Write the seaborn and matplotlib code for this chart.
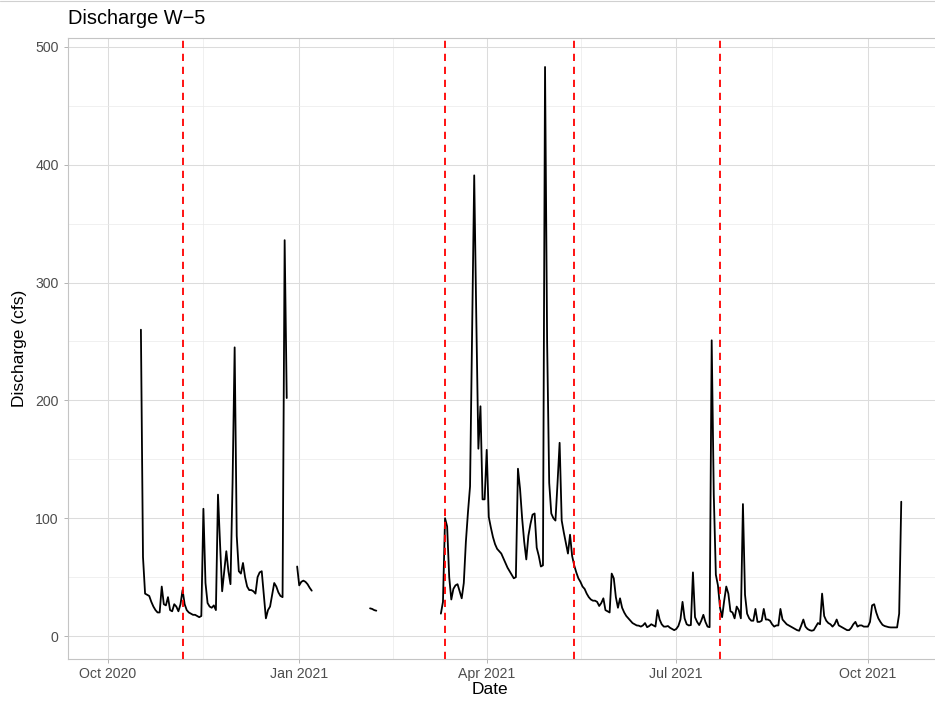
import numpy as np
import pandas as pd
import matplotlib
matplotlib.use("Agg")
import matplotlib.pyplot as plt
import matplotlib.dates as mdates
from matplotlib.lines import Line2D
import seaborn as sns

# ---- data (daily discharge, cfs) ----
seg_starts = ["2020-10-17", "2020-12-31", "2021-02-04", "2021-03-10"]

seg1 = [260, 67, 36, 35, 34, 29, 25, 22, 20, 20,
        42, 27, 26, 33, 22, 21, 27, 25, 21, 27,
        39, 27, 22, 20, 19, 18, 18, 17, 16, 17,
        108, 45, 28, 25, 24, 26, 22, 120, 78, 38,
        55, 72, 55, 44, 130, 245, 85, 55, 53, 62,
        50, 42, 39, 39, 38, 36, 50, 54, 55, 35,
        15, 22, 25, 35, 45, 42, 37, 34, 33, 336,
        202]

seg2 = [59, 43, 46, 47, 46, 44, 41, 38.5]

seg3 = [23.5, 23, 22, 21.5]

seg4 = [19, 29, 100, 93, 50, 31, 40, 43, 44, 38,
        32, 45, 80, 105, 127, 260, 391, 270, 159, 195,
        116, 116, 158, 101, 92, 84, 78, 74, 72, 70,
        66, 62, 58, 55, 52, 49, 50, 142, 125, 100,
        80, 65, 85, 95, 103, 104, 75, 68, 59, 60,
        483, 250, 130, 104, 100, 98, 130, 164, 98, 88,
        79, 70, 86, 68, 60, 54, 49, 46, 42, 40,
        36, 33, 31, 30, 30, 29, 25.5, 28, 32, 22,
        21, 20, 53, 49, 33, 24, 32, 24, 20, 17,
        15, 13, 11, 10, 9, 8.8, 8, 9, 11, 7.5,
        8.5, 10, 9, 8, 22, 14, 10, 8, 8, 8.5,
        7, 6, 5, 6, 8.5, 14, 29, 15, 10, 9,
        9.3, 54, 16, 12, 9.3, 13, 18, 12, 8, 7.5,
        251, 120, 52, 43, 24, 16, 30, 42, 36, 21,
        20, 15, 25, 22, 15, 112, 35, 19, 15, 13,
        13, 23, 12, 12, 13, 23, 14, 14, 13, 10,
        8, 9, 9, 23, 14, 12, 10, 9, 8, 7,
        6, 5, 4.5, 9, 14, 8, 6, 5, 4.5, 5,
        8, 11, 10, 36, 17, 13, 11, 10, 8, 10,
        14, 9, 8, 7, 6, 5, 5, 7, 10, 12,
        8, 9, 9, 8, 8, 8, 12, 26, 27, 20,
        15, 12, 9.5, 8.5, 8, 7.5, 7.3, 7.3, 7.3, 7.3,
        19, 114]

event_dates = ["2020-11-06", "2021-03-12", "2021-05-13", "2021-07-22"]
x_breaks = ["2020-10-01", "2021-01-01", "2021-04-01", "2021-07-01", "2021-10-01"]
y_breaks = [0, 100, 200, 300, 400, 500]

frames = []
for i, (start, vals) in enumerate(zip(seg_starts, [seg1, seg2, seg3, seg4])):
    frames.append(pd.DataFrame({
        "Date": pd.date_range(start, periods=len(vals), freq="D"),
        "Discharge": vals,
        "seg": i,
    }))
df = pd.concat(frames, ignore_index=True)

# ---- styling ----
sns.set_theme(style="white")
plt.rcParams["font.family"] = ["Liberation Sans", "DejaVu Sans"]

W, H = 935, 704
fig = plt.figure(figsize=(W / 100, H / 100), dpi=100)
pl, pr, pt, pb = 68, 935, 38, 659
ax = fig.add_axes([pl / W, 1 - pb / H, (pr - pl) / W, (pb - pt) / H])

sns.lineplot(data=df, x="Date", y="Discharge", units="seg", estimator=None,
             color="black", linewidth=1.3, ax=ax, legend=False)

for d in event_dates:
    ax.axvline(pd.Timestamp(d), color="#FF0000", linestyle=(0, (4, 3.2)),
               linewidth=1.3, zorder=3)

origin = pd.Timestamp("2020-10-01")
ax.set_xlim(origin - pd.Timedelta(days=19), origin + pd.Timedelta(days=397.2))
ax.set_ylim(-19.5, 507.6)

major = [pd.Timestamp(b) for b in x_breaks]
minor = [major[i] + (major[i + 1] - major[i]) / 2 for i in range(len(major) - 1)]
ax.set_xticks(major)
ax.set_xticks(minor, minor=True)
ax.xaxis.set_major_formatter(mdates.DateFormatter("%b %Y"))
ax.set_yticks(y_breaks)
ax.set_yticks([b + 50 for b in y_breaks[:-1]], minor=True)

ax.grid(which="major", color="#DCDCDC", linewidth=0.75)
ax.grid(which="minor", color="#EAEAEA", linewidth=0.5)
ax.set_axisbelow(True)

for s in ["left", "top", "bottom"]:
    ax.spines[s].set_color("#C4C4C4")
    ax.spines[s].set_linewidth(0.8)
ax.spines["right"].set_visible(False)

ax.tick_params(which="major", length=3.2, width=0.7, color="#B3B3B3",
               labelsize=10.2, labelcolor="#4D4D4D", pad=2.5)
ax.tick_params(axis="y", which="major", pad=3.5)
ax.tick_params(which="minor", length=0)
ax.tick_params(axis="x", bottom=True)
ax.tick_params(axis="y", left=True)

ax.set_xlabel("Date", fontsize=12.5, color="black")
ax.set_ylabel("Discharge (cfs)", fontsize=12.5, color="black")
ax.xaxis.set_label_coords((490 - pl) / (pr - pl), -(690 - pb) / (pb - pt))
ax.xaxis.label.set_va("center")
ax.yaxis.set_label_coords(-(pl - 20) / (pr - pl), 0.5)
ax.yaxis.label.set_va("center")

fig.text(pl / W, 1 - 18 / H, "Discharge W\u22125", fontsize=14.4,
         ha="left", va="center", color="black")
fig.add_artist(Line2D([0, 1], [1 - 1.2 / H] * 2, color="#D0D0D0", linewidth=0.8))

fig.savefig("out.png", dpi=100)
